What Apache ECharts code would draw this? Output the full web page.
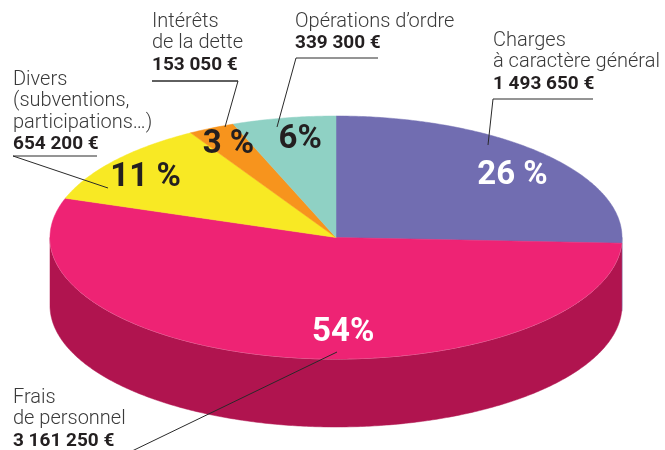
<!DOCTYPE html>
<html>
<head>
<meta charset="utf-8">
<script src="https://cdn.jsdelivr.net/npm/echarts@6/dist/echarts.min.js"></script>
<style>
  html, body { margin: 0; padding: 0; background: #fff; }
  #chart { width: 665px; height: 450px; }
</style>
</head>
<body>
<div id="chart"></div>
<script>
// données du budget (sens horaire depuis 12 h)
var categories = ['Charges\nà caractère général', 'Frais\nde personnel', 'Divers\n(subventions,\nparticipations…)', 'Intérêts\nde la dette', 'Opérations d’ordre'];
var amounts = [1493650, 3161250, 654200, 153050, 339300];
var pctSep = [' ', '', ' ', ' ', ''];

var colors = ['#716db1', '#ee2374', '#f8e924', '#f7941d', '#8fd1c4'];
var sideColors = ['#4f4b8c', '#b0144f', '#c2b612', '#b96c12', '#62a497'];
var pctColors = ['#ffffff', '#ffffff', '#231f20', '#231f20', '#231f20'];

// géométrie de l'ellipse
var cx = 336, cy = 237.5, rx = 286, ry = 121.5, depth = 68;
var labelShift = [[11, 5], [50, 0], [-13, 2], [-8, -5], [6, -2]];

// bloc de texte + filet / trait de rappel
var calloutPos = [[493, 30], [13, 387], [13, 69], [152, 11], [295, 11]];
var leaders = [
    [[593, 99], [493, 99], [488, 145]],
    [[130, 452], [337, 352]],
    [[97, 156], [13, 156], [108, 188]],
    [[238, 81], [152, 81], [238, 81], [225, 127]],
    [[378, 58], [296, 58], [277, 127]]
];

var FONT = 'Roboto, "Noto Sans", sans-serif';

var total = amounts.reduce(function(a, b) { return a + b; }, 0);

function fmt(v) {
    return String(v).replace(/\B(?=(\d{3})+(?!\d))/g, ' ') + ' €';
}

function pt(t, dy) {
    return [cx + rx * Math.cos(t), cy - ry * Math.sin(t) + (dy || 0)];
}

function range(i) {
    var before = 0;
    for (var k = 0; k < i; k++) before += amounts[k];
    var a1 = Math.PI / 2 - before / total * 2 * Math.PI;
    var a0 = a1 - amounts[i] / total * 2 * Math.PI;
    return [a0, a1];
}

function arc(a, b, dy) {
    var pts = [], n = Math.max(2, Math.ceil(Math.abs(b - a) / 0.01));
    for (var s = 0; s <= n; s++) pts.push(pt(a + (b - a) * s / n, dy));
    return pts;
}

function renderSide(params, api) {
    var i = params.dataIndex;
    var r = range(i);
    var lo = Math.max(r[0], -Math.PI), hi = Math.min(r[1], 0);
    if (hi <= lo) return { type: 'group', children: [] };
    var top = arc(lo, hi, 0);
    var bottom = arc(hi, lo, depth);
    return {
        type: 'group',
        children: [{
            type: 'polygon',
            shape: { points: top.concat(bottom) },
            style: { fill: sideColors[i], stroke: sideColors[i], lineWidth: 0.5 }
        }, {
            type: 'polyline',
            shape: { points: top },
            style: { fill: null, stroke: 'rgba(255,255,255,0.55)', lineWidth: 1 }
        }]
    };
}

function renderTop(params, api) {
    var i = params.dataIndex;
    var r = range(i);
    var pts = [[cx, cy]].concat(arc(r[1], r[0], 0));
    var mid = (r[0] + r[1]) / 2;
    var lp = [cx + rx * 0.8 * Math.cos(mid) + labelShift[i][0], cy - ry * 0.8 * Math.sin(mid) + labelShift[i][1]];
    var pct = Math.round(api.value(0) / total * 100);
    return {
        type: 'group',
        children: [{
            type: 'polygon',
            shape: { points: pts },
            style: { fill: colors[i], stroke: colors[i], lineWidth: 0.5 }
        }, {
            type: 'text',
            x: lp[0],
            y: lp[1],
            z2: 10,
            style: {
                text: pct + pctSep[i] + '%',
                fill: pctColors[i],
                fontSize: 33,
                fontWeight: 'bold',
                fontFamily: FONT,
                align: 'center',
                verticalAlign: 'middle'
            }
        }]
    };
}

var graphics = [];
categories.forEach(function(name, i) {
    var lines = name.split('\n').map(function(s) { return '{n|' + s + '}'; });
    lines.push('{v|' + fmt(amounts[i]) + '}');
    graphics.push({
        type: 'text',
        x: calloutPos[i][0],
        y: calloutPos[i][1],
        z: 20,
        style: {
            text: lines.join('\n'),
            rich: {
                n: { fontSize: 20, fontWeight: 300, fontFamily: FONT, fill: '#3a3a3a', lineHeight: 21.5 },
                v: { fontSize: 19, fontWeight: 'bold', fontFamily: FONT, fill: '#231f20', lineHeight: 21.5 }
            }
        }
    });
    graphics.push({
        type: 'polyline',
        z: 20,
        shape: { points: leaders[i] },
        style: { fill: null, stroke: '#2a2a2a', lineWidth: 1 }
    });
});

var chart = echarts.init(document.getElementById('chart'), null, { renderer: 'canvas' });

var seriesData = amounts.map(function(v, i) { return { name: categories[i], value: [v] }; });

chart.setOption({
    animation: false,
    backgroundColor: '#ffffff',
    graphic: graphics,
    series: [
        {
            type: 'custom',
            coordinateSystem: 'none',
            z: 1,
            renderItem: renderSide,
            data: seriesData
        },
        {
            type: 'custom',
            coordinateSystem: 'none',
            z: 2,
            renderItem: renderTop,
            data: seriesData
        }
    ]
});
</script>
</body>
</html>
